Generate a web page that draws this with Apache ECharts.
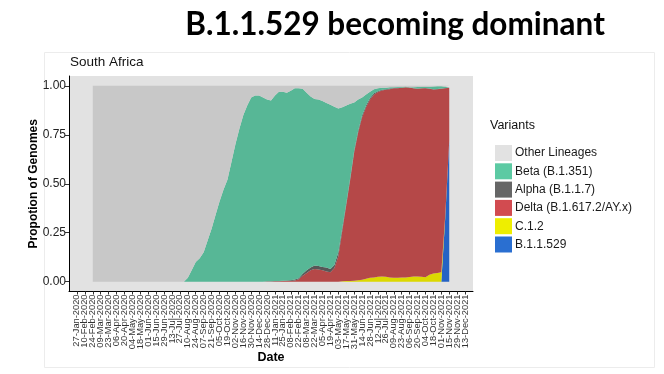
<!DOCTYPE html>
<html><head><meta charset="utf-8">
<script src="https://cdn.jsdelivr.net/npm/echarts@6/dist/echarts.min.js"></script>
<style>html,body{margin:0;padding:0;background:#fff}#c{width:664px;height:374px}</style>
</head><body><div id="c"></div>
<script>
// Tick labels (biweekly), placed at week index 2,4,...,100 (week 0 = 13-Jan-2020, week 102 = 27-Dec-2021)
const tickLabels = [
'27-Jan-2020','10-Feb-2020','24-Feb-2020','09-Mar-2020','23-Mar-2020','06-Apr-2020','20-Apr-2020','04-May-2020','18-May-2020','01-Jun-2020',
'15-Jun-2020','29-Jun-2020','13-Jul-2020','27-Jul-2020','10-Aug-2020','24-Aug-2020','07-Sep-2020','21-Sep-2020','05-Oct-2020','19-Oct-2020',
'02-Nov-2020','16-Nov-2020','30-Nov-2020','14-Dec-2020','28-Dec-2020','11-Jan-2021','25-Jan-2021','08-Feb-2021','22-Feb-2021','08-Mar-2021',
'22-Mar-2021','05-Apr-2021','19-Apr-2021','03-May-2021','17-May-2021','31-May-2021','14-Jun-2021','28-Jun-2021','12-Jul-2021','26-Jul-2021',
'09-Aug-2021','23-Aug-2021','06-Sep-2021','20-Sep-2021','04-Oct-2021','18-Oct-2021','01-Nov-2021','15-Nov-2021','29-Nov-2021','13-Dec-2021'
];
const weekCount = 103;     // weekly slots on the axis
const firstSampleWeek = 6; // 24-Feb-2020; samples are weekly up to 15-Nov-2021

const otherLineages = [
1,1,1,1,1,1,1,1,1,1,1,1,1,1,1,1,1,1,1,1,1,1,1,1,
.98,.94,.90,.88,.85,.79,.73,.66,.59,.53,.48,.39,.30,.22,.15,.10,.06,.05,.05,.06,
.07,.075,.05,.03,.03,.035,.025,.012,.012,.015,
.035,.055,.067,.07,.078,.088,.097,.107,.116,.11,
.10,.092,.085,.07,.06,.045,.03,.017,.012,.01,
.01,.008,.007,.006,.006,.003,.008,.007,.006,.005,
.005,.005,.003,.002,.002,.005,.01
];
const beta = [
0,0,0,0,0,0,0,0,0,0,0,0,0,0,0,0,0,0,0,0,0,0,0,0,
.02,.06,.10,.12,.15,.21,.27,.34,.41,.47,.52,.61,.70,.78,.85,.90,.94,.95,.95,.94,
.928,.923,.947,.966,.965,.959,.967,.977,.97,.945,
.907,.872,.85,.85,.847,.84,.838,.808,.734,.615,
.50,.378,.245,.16,.09,.055,.032,.021,.016,.01,
.007,.006,.004,.004,.004,.004,.001,.005,.008,.007,
.006,.009,.015,.014,.012,.006,0
];
const alpha = [
0,0,0,0,0,0,0,0,0,0,0,0,0,0,0,0,0,0,0,0,0,0,0,0,0,0,0,0,0,0,0,0,0,0,0,0,0,0,0,0,0,0,0,0,
.001,.001,.001,.002,.002,.003,.004,.005,.006,.01,
.013,.015,.018,.018,.017,.02,.017,.015,.02,.015,
.01,.01,.01,.01,.01,.01,.008,.007,.004,.004,
.003,.003,.002,.002,0,.001,.001,.001,.001,.001,
.001,.001,.001,.001,.001,.001,0
];
const delta = [
0,0,0,0,0,0,0,0,0,0,0,0,0,0,0,0,0,0,0,0,0,0,0,0,0,0,0,0,0,0,0,0,0,0,0,0,0,0,0,0,0,0,0,0,
.001,.001,.002,.002,.003,.003,.004,.006,.012,.03,
.045,.058,.065,.062,.058,.052,.048,.07,.13,.258,
.387,.516,.655,.753,.83,.875,.91,.933,.943,.949,
.955,.961,.967,.968,.969,.97,.966,.961,.959,.962,
.965,.95,.939,.938,.937,.648,.27
];
const c12 = [
0,0,0,0,0,0,0,0,0,0,0,0,0,0,0,0,0,0,0,0,0,0,0,0,0,0,0,0,0,0,0,0,0,0,0,0,0,0,0,0,
0,0,0,0,0,0,0,0,0,0,0,0,0,0,0,0,0,0,0,0,0,0,0,
.002,.003,.004,.005,.007,.01,.015,.02,.022,.025,.027,
.025,.022,.02,.02,.021,.022,.024,.026,.026,.025,
.023,.035,.042,.045,.048,.01,0
];
const b11529 = [
0,0,0,0,0,0,0,0,0,0,0,0,0,0,0,0,0,0,0,0,0,0,0,0,0,0,0,0,0,0,0,0,0,0,0,0,0,0,0,0,
0,0,0,0,0,0,0,0,0,0,0,0,0,0,0,0,0,0,0,0,0,0,0,0,0,0,0,0,0,0,0,0,0,0,0,0,0,0,0,0,
0,0,0,0,0,0,0,0,0,
.33,.72
];

const yTicks = [0, 0.25, 0.5, 0.75, 1];
const weekCats = Array.from({length: weekCount}, (_, i) => String(i));
// even week slots carry ticks; the two end slots (0 and 102) are blank placeholders that get dropped
const isTick = i => i % 2 === 0;
// place each sample on its week slot; weeks without samples stay empty
const onWeeks = arr => weekCats.map((_, i) => {
  const k = i - firstSampleWeek;
  return (k >= 0 && k < arr.length) ? arr[k] : '-';
});

const seriesDefs = [
  {name: 'B.1.1.529', data: b11529, color: '#2563c4', legend: '#2a6fd1'},
  {name: 'C.1.2', data: c12, color: '#dcd800', legend: '#eeee00'},
  {name: 'Delta (B.1.617.2/AY.x)', data: delta, color: '#b54848', legend: '#d24b50'},
  {name: 'Alpha (B.1.1.7)', data: alpha, color: '#575757', legend: '#666666'},
  {name: 'Beta (B.1.351)', data: beta, color: '#57b796', legend: '#5ccaa3'},
  {name: 'Other Lineages', data: otherLineages, color: '#c8c8c8', legend: '#e2e2e2'}
];
const legendOrder = ['Other Lineages', 'Beta (B.1.351)', 'Alpha (B.1.1.7)', 'Delta (B.1.617.2/AY.x)', 'C.1.2', 'B.1.1.529'];

const chart = echarts.init(document.getElementById('c'), null, {renderer: 'canvas'});
const FONT = 'Liberation Sans';
chart.setOption({
  backgroundColor: '#ffffff',
  animation: false,
  textStyle: {fontFamily: FONT},
  graphic: [
    {type: 'rect', z: -10, shape: {x: 44.5, y: 52.5, width: 610, height: 315}, style: {fill: '#fff', stroke: '#ececec', lineWidth: 1}},
    {type: 'text', x: 395, y: 25, style: {text: 'B.1.1.529 becoming dominant', font: 'bold 31.5px Lato', fill: '#000', textAlign: 'center', textVerticalAlign: 'middle'}},
    {type: 'text', x: 70, y: 62, style: {text: 'South Africa', font: '13.5px "Liberation Sans"', fill: '#111', textAlign: 'left', textVerticalAlign: 'middle'}},
    {type: 'text', x: 490, y: 126, style: {text: 'Variants', font: '12.5px "Liberation Sans"', fill: '#111', textAlign: 'left', textVerticalAlign: 'middle'}}
  ],
  grid: {left: 69, right: 191, top: 76, bottom: 82.5, show: true, backgroundColor: '#e2e2e2', borderWidth: 0},
  legend: {
    orient: 'vertical', left: 490, top: 140, itemWidth: 17, itemHeight: 16, itemGap: 2.3, icon: 'rect',
    selectedMode: false,
    textStyle: {fontFamily: FONT, fontSize: 12, color: '#1a1a1a', padding: [0, 0, 0, -2]},
    data: legendOrder.map(n => ({name: n, itemStyle: {color: seriesDefs.find(s => s.name === n).legend}}))
  },
  xAxis: {
    type: 'category', data: weekCats, boundaryGap: false,
    name: 'Date', nameLocation: 'middle', nameGap: 60, nameMoveOverlap: false,
    nameTextStyle: {fontFamily: FONT, fontSize: 12.5, fontWeight: 'bold', color: '#000', verticalAlign: 'top'},
    axisLine: {onZero: false, lineStyle: {color: '#000', width: 1}},
    axisTick: {interval: isTick, length: 3, lineStyle: {color: '#333'}},
    axisLabel: {interval: isTick, rotate: 90, fontSize: 9.3, color: '#333', margin: 3,
      showMinLabel: false, showMaxLabel: false, hideOverlap: false,
      formatter: (v, i) => tickLabels[(i - 2) / 2] || ' '},
    splitLine: {show: false}
  },
  yAxis: {
    type: 'value', min: -0.05, max: 1.05,
    name: 'Propotion of Genomes', nameLocation: 'middle', nameGap: 29, nameRotate: 90, nameMoveOverlap: false,
    nameTextStyle: {fontFamily: FONT, fontSize: 12, fontWeight: 'bold', color: '#000'},
    axisLine: {show: true, lineStyle: {color: '#000', width: 1}},
    axisTick: {show: true, customValues: yTicks, length: 4, lineStyle: {color: '#333'}},
    axisLabel: {customValues: yTicks, fontSize: 12, color: '#222', margin: 3, formatter: v => v.toFixed(2)},
    splitLine: {show: false}
  },
  series: seriesDefs.map(s => ({
    name: s.name, type: 'line', stack: 'total', data: onWeeks(s.data),
    symbol: 'none', smooth: false, color: s.color,
    lineStyle: {width: 0}, areaStyle: {color: s.color, opacity: 1},
    emphasis: {disabled: true}
  }))
});
</script></body></html>
